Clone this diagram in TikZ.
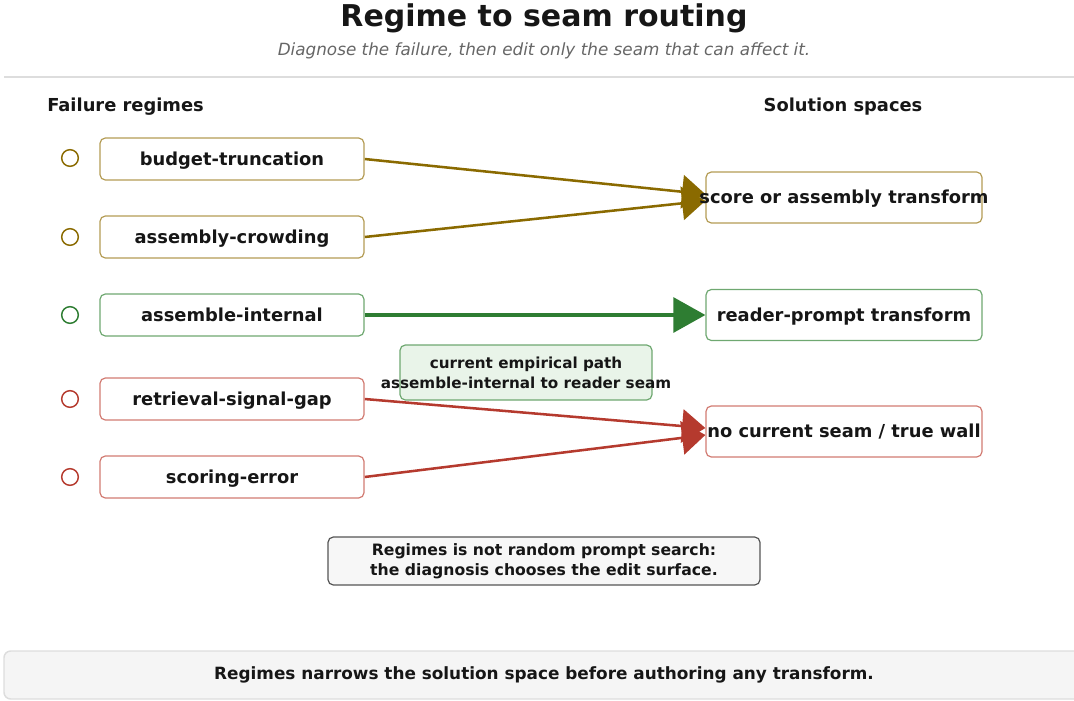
\documentclass[tikz,border=0pt]{standalone}
\usepackage{fontspec}
\setmainfont{DejaVu Sans}
\usetikzlibrary{arrows.meta,backgrounds}

\definecolor{inkdark}{HTML}{161616}
\definecolor{subgray}{HTML}{666666}
\definecolor{rulegray}{HTML}{DDDDDD}
\definecolor{regbrown}{HTML}{8A6A00}
\definecolor{regbrownlt}{HTML}{B49C55}
\definecolor{reggreen}{HTML}{2E7D32}
\definecolor{reggreenlt}{HTML}{6FA871}
\definecolor{regred}{HTML}{B53A2E}
\definecolor{regredlt}{HTML}{D27B72}
\definecolor{notefill}{HTML}{E9F4E9}
\definecolor{calloutfill}{HTML}{F7F7F7}
\definecolor{calloutdraw}{HTML}{555555}
\definecolor{footfill}{HTML}{F5F5F5}

% text that may run past its box
\newcommand{\wide}[1]{\makebox[0pt]{#1}}

\begin{document}
\begin{tikzpicture}[
  x=0.75pt, y=-0.75pt,
  every node/.style={text=inkdark},
  headfont/.style={font=\fontsize{13.4}{16}\selectfont\bfseries,
    text height=10pt, text depth=1pt},
  regime/.style={draw, fill=white, rounded corners=4pt, line width=0.9pt,
    minimum width=198pt, minimum height=31.5pt, inner sep=0pt, headfont},
  seambox/.style={regime, minimum width=207pt, minimum height=38.25pt},
  regdot/.style={circle, draw, minimum size=12.5pt, inner sep=0pt, line width=1.1pt},
  route/.style={-{Triangle[length=17.5pt,width=25pt]}, line width=1.9pt},
  notebox/.style={draw=reggreenlt, fill=notefill, rounded corners=4pt, line width=0.9pt,
    minimum width=189pt, minimum height=41.25pt, inner sep=0pt, align=center,
    font=\fontsize{11.4}{15}\selectfont\bfseries},
  callout/.style={draw=calloutdraw, fill=calloutfill, rounded corners=4pt, line width=0.9pt,
    minimum width=324pt, minimum height=36pt, inner sep=0pt, align=center,
    font=\fontsize{11.75}{15}\selectfont\bfseries},
  footer/.style={draw=rulegray, fill=footfill, rounded corners=5pt, line width=1.1pt,
    minimum width=810pt, minimum height=36pt, inner sep=0pt,
    font=\fontsize{12.65}{15}\selectfont\bfseries}
]
\useasboundingbox (0,0) rectangle (1074,700);

% heading
\node [font=\fontsize{22.5}{26}\selectfont\bfseries] (title) at (544,18.5) {Regime to seam routing};
\node [font=\fontsize{12.6}{15}\selectfont\itshape, text=subgray] (subtitle) at (544,50.5)
  {Diagnose the failure, then edit only the seam that can affect it.};
\draw [rulegray, line width=1.5pt] (4,77) -- (1074,77);

\node [headfont, anchor=west, inner xsep=0pt] (failhead) at (47,105) {Failure regimes};
\node [headfont] (solhead) at (843,105) {Solution spaces};

% failure regimes
\node [regdot, draw=regbrown] (budgetdot) at (70,158) {};
\node [regdot, draw=regbrown] (crowddot) at (70,237) {};
\node [regdot, draw=reggreen] (internaldot) at (70,315) {};
\node [regdot, draw=regred] (gapdot) at (70,399) {};
\node [regdot, draw=regred] (scoringdot) at (70,477) {};

\node [regime, draw=regbrownlt] (budget) at (232,159) {budget-truncation};
\node [regime, draw=regbrownlt] (crowd) at (232,237) {assembly-crowding};
\node [regime, draw=reggreenlt] (internal) at (232,315) {assemble-internal};
\node [regime, draw=regredlt] (gap) at (232,399) {retrieval-signal-gap};
\node [regime, draw=regredlt] (scoring) at (232,477) {scoring-error};

% solution spaces
\node [seambox, draw=regbrownlt] (score) at (844,197.5) {\wide{score or assembly transform}};
\node [seambox, draw=reggreenlt] (reader) at (844,315) {reader-prompt transform};
\node [seambox, draw=regredlt] (wall) at (844,431.5) {\wide{no current seam / true wall}};

\node [notebox] (note) at (526,372.5)
  {\wide{current empirical path}\\\wide{assemble-internal to reader seam}};

% routes
\begin{scope}[on background layer]
\draw [route, regbrown] (budget.east) -- ([yshift=2.5pt]score.west);
\draw [route, regbrown] (crowd.east) -- ([yshift=-2.5pt]score.west);
\draw [route, reggreen, line width=3pt, -{Triangle[length=24pt,width=26pt]}] (internal.east) -- (reader.west);
\draw [route, regred] (gap.east) -- ([yshift=2.6pt]wall.west);
\draw [route, regred] (scoring.east) -- ([yshift=-2.6pt]wall.west);
\end{scope}

\node [callout] (claim) at (544,561)
  {Regimes is not random prompt search:\\the diagnosis chooses the edit surface.};
\node [footer] (takeaway) at (544,675)
  {Regimes narrows the solution space before authoring any transform.};

\end{tikzpicture}
\end{document}
